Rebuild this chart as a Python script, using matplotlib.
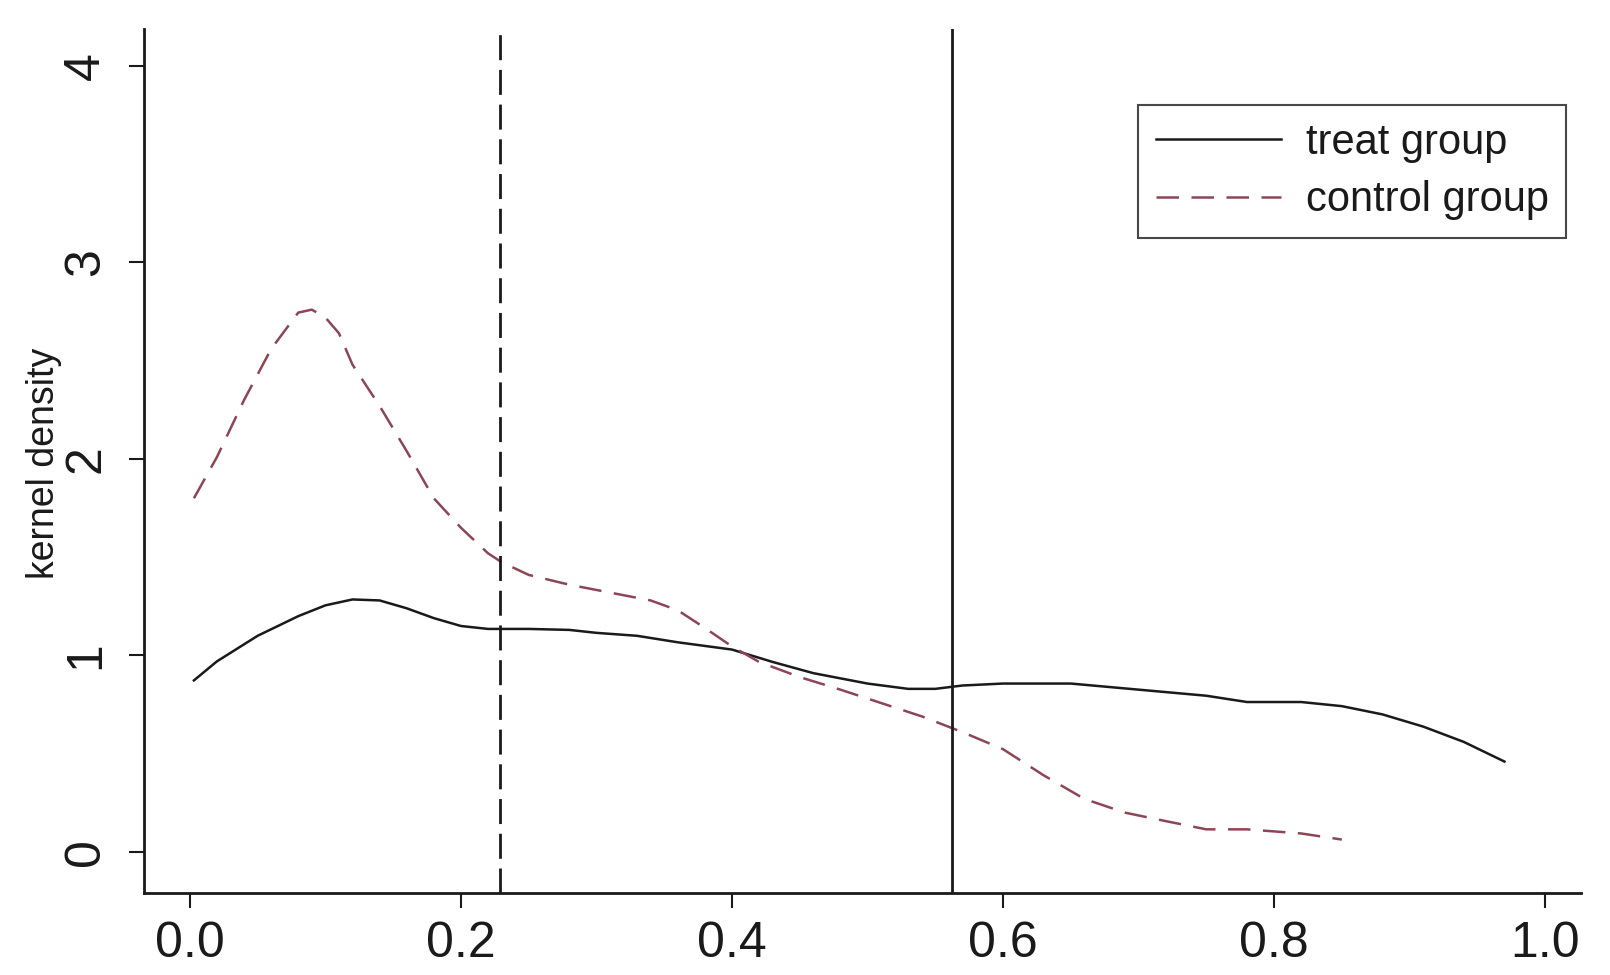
import matplotlib
matplotlib.use("Agg")
import matplotlib.pyplot as plt

plt.rcParams['font.family'] = ['Liberation Sans', 'DejaVu Sans']

# kernel density estimates
treat_x = [0.003, 0.02, 0.05, 0.08, 0.10, 0.12, 0.14, 0.16, 0.18, 0.20, 0.22, 0.25,
           0.28, 0.30, 0.33, 0.36, 0.40, 0.43, 0.46, 0.50, 0.53, 0.55, 0.57, 0.60,
           0.65, 0.70, 0.75, 0.78, 0.82, 0.85, 0.88, 0.91, 0.94, 0.97]
treat_y = [0.873, 0.97, 1.10, 1.20, 1.255, 1.285, 1.28, 1.24, 1.19, 1.15, 1.135, 1.135,
           1.13, 1.115, 1.10, 1.067, 1.03, 0.967, 0.91, 0.857, 0.83, 0.83, 0.847, 0.857,
           0.857, 0.826, 0.795, 0.763, 0.763, 0.742, 0.70, 0.638, 0.56, 0.46]

control_x = [0.003, 0.02, 0.04, 0.06, 0.08, 0.09, 0.10, 0.11, 0.12, 0.14, 0.16, 0.18,
             0.20, 0.22, 0.23, 0.25, 0.28, 0.31, 0.34, 0.36, 0.38, 0.40, 0.42, 0.45,
             0.48, 0.51, 0.54, 0.57, 0.60, 0.63, 0.66, 0.69, 0.72, 0.75, 0.78, 0.82, 0.85]
control_y = [1.80, 2.01, 2.30, 2.56, 2.745, 2.76, 2.72, 2.64, 2.48, 2.27, 2.04, 1.80,
             1.65, 1.52, 1.475, 1.41, 1.36, 1.32, 1.28, 1.23, 1.14, 1.046, 0.967, 0.89,
             0.826, 0.758, 0.69, 0.61, 0.523, 0.39, 0.27, 0.20, 0.157, 0.115, 0.115, 0.094, 0.063]

control_mean = 0.229
treat_mean = 0.562

x_ticks = [0.0, 0.2, 0.4, 0.6, 0.8, 1.0]
y_ticks = [0, 1, 2, 3, 4]

fig = plt.figure(figsize=(16.1, 9.75), dpi=100)
ax = fig.add_axes([0.0893, 0.0841, 0.8927, 0.8865])

ink = '#1a1a1a'
ctrl_col = '#8c4656'

ax.plot(treat_x, treat_y, color=ink, linewidth=1.8, label='treat group')
ax.plot(control_x, control_y, color=ctrl_col, linewidth=1.8, dashes=(9, 5),
        label='control group')
ax.axvline(control_mean, color=ink, linewidth=2, dashes=(9, 3.5))
ax.axvline(treat_mean, color=ink, linewidth=2)

ax.set_xlim(-0.034, 1.0265)
ax.set_ylim(-0.209, 4.19)
ax.set_xticks(x_ticks)
ax.set_xticklabels([f'{t:.1f}' for t in x_ticks])
ax.set_yticks(y_ticks)
ax.set_yticklabels([str(t) for t in y_ticks], rotation=90, va='center')

for s in ['top', 'right']:
    ax.spines[s].set_visible(False)
for s in ['left', 'bottom']:
    ax.spines[s].set_linewidth(2)
    ax.spines[s].set_color(ink)

ax.tick_params(axis='both', direction='out', length=11, width=1.5, colors=ink,
               labelsize=36)
ax.tick_params(axis='x', pad=9)
ax.tick_params(axis='y', pad=14)

fig.text(0.0273, 0.525, 'kernel density', rotation=90, ha='center', va='center',
         fontsize=27, color=ink)

leg = ax.legend(loc='upper right', bbox_to_anchor=(0.9727, 0.892),
                bbox_transform=fig.transFigure, borderaxespad=0, fontsize=30,
                handlelength=3.0, handletextpad=0.6, fancybox=False,
                frameon=True, borderpad=0.42, labelspacing=0.42)
leg.get_frame().set_edgecolor(ink)
leg.get_frame().set_linewidth(1.5)
for t in leg.get_texts():
    t.set_color(ink)

fig.savefig('out.png', dpi=100)
